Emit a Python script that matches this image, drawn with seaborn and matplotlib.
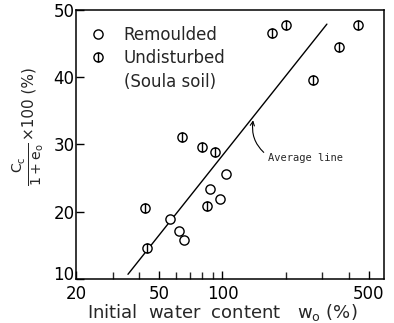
import numpy as np
import pandas as pd
import matplotlib
matplotlib.use('Agg')
import matplotlib.pyplot as plt
import matplotlib.transforms as mtransforms
import seaborn as sns
from matplotlib.path import Path
from matplotlib.lines import Line2D

# ---- data ----
remoulded_w = [56.0, 62.0, 65.5, 87.0, 97.0, 104.0]
remoulded_c = [18.9, 17.1, 15.8, 23.4, 21.9, 25.6]
undisturbed_w = [42.7, 43.6, 64.0, 80.0, 84.4, 92.0, 172.0, 201.0, 270.0, 360.0, 443.0]
undisturbed_c = [20.6, 14.6, 31.1, 29.6, 20.9, 28.9, 46.6, 47.8, 39.6, 44.5, 47.8]
average_w = [35.4, 315.0]
average_c = [10.7, 47.9]
x_ticks = [20, 50, 100, 500]
x_minor = [30, 40, 60, 70, 80, 90, 200, 300, 400]
y_ticks = [10, 20, 30, 40, 50]

sns.set_theme(style='ticks')
plt.rcParams['font.family'] = ['DejaVu Sans']
plt.rcParams['mathtext.default'] = 'regular'

W, H = 394, 323
fig = plt.figure(figsize=(W / 100, H / 100), dpi=100)
ax = fig.add_axes([76 / W, 1 - 279 / H, 308 / W, 269 / H])

# marker: circle with vertical bar
circ = Path.unit_circle()
bar = Path([[0, -1.0], [0, 1.0]], [Path.MOVETO, Path.LINETO])
phi_marker = Path.make_compound_path(circ, bar)

sns.lineplot(x=average_w, y=average_c, color='black', linewidth=1.0, ax=ax, zorder=1)
sns.scatterplot(x=remoulded_w, y=remoulded_c, marker='o', s=44, facecolor='white',
                edgecolor='black', linewidth=1.0, ax=ax, zorder=3)
ax.scatter(undisturbed_w, undisturbed_c, marker=phi_marker, s=44, facecolor='white',
           edgecolor='black', linewidth=1.0, zorder=3)

ax.set_xscale('log')
ax.set_xlim(20, 590)
ax.set_ylim(10, 50)
ax.set_xticks(x_ticks)
ax.set_xticklabels([str(t) for t in x_ticks])
ax.set_xticks(x_minor, minor=True)
ax.set_xticklabels([], minor=True)
ax.set_yticks(y_ticks)
ax.set_yticklabels([str(t) for t in y_ticks])

ax.tick_params(axis='both', which='major', direction='in', length=6, width=1.0,
               labelsize=12, colors='black')
ax.tick_params(axis='x', which='major', pad=4)
ax.tick_params(axis='y', which='major', pad=1)
ax.tick_params(axis='x', which='minor', direction='in', length=5, width=1.0)
ax.tick_params(axis='y', which='minor', left=False)
for s in ax.spines.values():
    s.set_visible(True)
    s.set_linewidth(1.1)
    s.set_color('black')

# lift the "10" label slightly so it clears the "20" below it
shift = mtransforms.ScaledTranslation(0, 4 / 72, fig.dpi_scale_trans)
ytl = ax.get_yticklabels()
ytl[0].set_transform(ytl[0].get_transform() + shift)

ax.set_xlabel('Initial  water  content   $w_o$ (%)', fontsize=13, labelpad=0)
ax.xaxis.set_label_coords((222 - 76) / 308, -0.085)
ax.set_ylabel('')

# y-axis label built from a fraction and a factor
fig.text(29 / W, 1 - 164 / H, r'$\frac{C_c}{1+e_o}$', fontsize=14.5, rotation=90,
         ha='center', va='center')
fig.text(29 / W, 1 - 104 / H, '×100 (%)', fontsize=11, rotation=90,
         ha='center', va='center')

# annotation
ax.annotate('Average line', xy=(140, 33.6), xytext=(165, 28.0),
            fontsize=7.5, family='DejaVu Sans Mono', ha='left', va='center',
            arrowprops=dict(arrowstyle='->', color='black', lw=0.8, relpos=(0, 0.7),
                            connectionstyle='arc3,rad=-0.3', shrinkA=1, shrinkB=0))

# legend
h1 = Line2D([], [], marker='o', ls='none', mfc='white', mec='black', ms=6.6, mew=1.0)
h2 = Line2D([], [], marker=phi_marker, ls='none', mfc='white', mec='black', ms=6.6, mew=1.0)
h3 = Line2D([], [], ls='none')
ax.legend([h1, h2, h3], ['Remoulded', 'Undisturbed', '(Soula soil)'],
          loc='upper left', bbox_to_anchor=(0.0, 0.985), frameon=False,
          fontsize=12, handlelength=1.2, handletextpad=0.95, labelspacing=0.33,
          borderaxespad=0.3)

fig.savefig('out.png', dpi=100, facecolor='white')
